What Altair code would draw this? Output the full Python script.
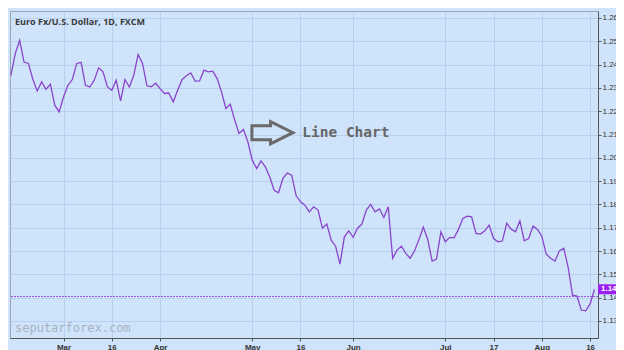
import altair as alt
import pandas as pd

# Trading days (index 0 = 2018-02-13, last = 2018-08-17), daily close
values = [
    1.2354, 1.2447, 1.2504, 1.2411, 1.2405, 1.2337, 1.2287, 1.2326, 1.2294, 1.2316,
    1.2226, 1.2197, 1.2261, 1.2311, 1.2336, 1.2405, 1.2410, 1.2311, 1.2304, 1.2333,
    1.2386, 1.2369, 1.2304, 1.2290, 1.2333, 1.2244, 1.2336, 1.2304, 1.2354, 1.2443,
    1.2405, 1.2309, 1.2305, 1.2320, 1.2297, 1.2276, 1.2278, 1.2240, 1.2290, 1.2335,
    1.2352, 1.2364, 1.2329, 1.2330, 1.2376, 1.2369, 1.2372, 1.2340, 1.2283, 1.2212,
    1.2230, 1.2162, 1.2105, 1.2122, 1.2069, 1.1990, 1.1954, 1.1987, 1.1961, 1.1918,
    1.1861, 1.1850, 1.1912, 1.1935, 1.1926, 1.1838, 1.1811, 1.1797, 1.1768, 1.1790,
    1.1776, 1.1698, 1.1716, 1.1647, 1.1621, 1.1544, 1.1661, 1.1687, 1.1659, 1.1698,
    1.1716, 1.1776, 1.1800, 1.1768, 1.1781, 1.1744, 1.1790, 1.1569, 1.1604, 1.1621,
    1.1590, 1.1569, 1.1601, 1.1649, 1.1702, 1.1650, 1.1557, 1.1566, 1.1683, 1.1640,
    1.1659, 1.1657, 1.1693, 1.1740, 1.1750, 1.1747, 1.1676, 1.1673, 1.1687, 1.1711,
    1.1654, 1.1640, 1.1643, 1.1719, 1.1694, 1.1683, 1.1729, 1.1644, 1.1654, 1.1707,
    1.1693, 1.1664, 1.1587, 1.1569, 1.1557, 1.1601, 1.1612, 1.1530, 1.1411, 1.1407,
    1.1347, 1.1344, 1.1373, 1.1436,
]
days = list(range(len(values)))

tick_days = [12, 23, 34, 55, 66, 78, 99, 110, 121, 132]
tick_labels = ["Mar", "16", "Apr", "May", "16", "Jun", "Jul", "17", "Aug", "16"]
y_ticks = [1.130, 1.140, 1.150, 1.160, 1.170, 1.180, 1.190, 1.200,
           1.210, 1.220, 1.230, 1.240, 1.250, 1.260]

ref_level = [1.1405]
last_price = [1.1436]
last_label = ["1.143"]

title_text = ["Euro Fx/U.S. Dollar, 1D, FXCM"]
watermark = ["seputarforex.com"]
annot_text = ["Line Chart"]
arrow_pos = [(59.6, 1.2108)]
annot_pos = [(66.4, 1.2108)]

BG = "#cfe3fa"
GRID = "#b7d0ee"
LINE = "#8a45cc"
TAG = "#9b1ff0"

W = 588

xscale = alt.Scale(domain=[-0.2, 133.8], nice=False, zero=False)
yscale = alt.Scale(domain=[1.1227, 1.2630], nice=False, zero=False)

label_expr = "[" + ",".join("'%s'" % s for s in tick_labels) + "][indexof([" + \
    ",".join(str(t) for t in tick_days) + "], datum.value)]"

df = pd.DataFrame({"day": days, "close": values})

xaxis = alt.Axis(values=tick_days, labelExpr=label_expr, title=None, grid=True,
                 gridColor=GRID, domainColor="#555555", tickColor="#555555",
                 tickSize=3, labelPadding=2, labelFontSize=8, labelColor="#333333",
                 labelFont="Liberation Sans", labelFontWeight="bold",
                 labelOverlap=False)
yaxis = alt.Axis(orient="right", values=y_ticks, format=".3f", title=None, grid=True,
                 gridColor=GRID, domainColor="#555555", tickColor="#555555",
                 tickSize=3, labelPadding=1, labelFontSize=8, labelColor="#333333",
                 labelFont="Liberation Sans", labelOverlap=False)

line = alt.Chart(df).mark_line(color=LINE, strokeWidth=1.3).encode(
    x=alt.X("day:Q", scale=xscale, axis=xaxis),
    y=alt.Y("close:Q", scale=yscale, axis=yaxis),
)

rule = alt.Chart(pd.DataFrame({"v": ref_level})).mark_rule(
    color="#9a55e0", strokeDash=[2, 1], strokeWidth=1
).encode(y=alt.Y("v:Q", scale=yscale, axis=yaxis))

tag = alt.Chart(pd.DataFrame({"v": last_price, "t": last_label})).mark_rect(
    color=TAG, height=10, clip=False
).encode(y=alt.Y("v:Q", scale=yscale, axis=yaxis), x=alt.value(W), x2=alt.value(W + 30))

tag_text = alt.Chart(pd.DataFrame({"v": last_price, "t": last_label})).mark_text(
    color="white", fontSize=8, fontWeight="bold", font="Liberation Sans",
    align="left", baseline="middle", dx=3
).encode(y=alt.Y("v:Q", scale=yscale, axis=yaxis), x=alt.value(W), text="t:N")

title = alt.Chart(pd.DataFrame({"t": title_text})).mark_text(
    align="left", baseline="middle", fontSize=9, fontWeight="bold",
    font="Open Sans", color="#3a3a3a"
).encode(x=alt.value(5), y=alt.value(11), text="t:N")

wm = alt.Chart(pd.DataFrame({"t": watermark})).mark_text(
    align="left", baseline="middle", fontSize=12, font="DejaVu Sans Mono",
    color="#a7b3c2"
).encode(x=alt.value(5), y=alt.value(317), text="t:N")

ax, ay = arrow_pos[0]
arrow_path = "M -1 -0.34 L -0.09 -0.34 L -0.09 -0.54 L 1 0 L -0.09 0.54 L -0.09 0.34 L -1 0.34 Z"
arrow = alt.Chart(pd.DataFrame({"x": [ax], "y": [ay]})).mark_point(
    shape=arrow_path, filled=False, size=1681, stroke="#6a6a6a", strokeWidth=3, opacity=1
).encode(x=alt.X("x:Q", scale=xscale, axis=xaxis), y=alt.Y("y:Q", scale=yscale, axis=yaxis))

tx, ty = annot_pos[0]
annot = alt.Chart(pd.DataFrame({"x": [tx], "y": [ty], "t": annot_text})).mark_text(
    align="left", baseline="middle", fontSize=14.5, fontWeight="bold",
    font="DejaVu Sans Mono", color="#666666"
).encode(x=alt.X("x:Q", scale=xscale, axis=xaxis), y=alt.Y("y:Q", scale=yscale, axis=yaxis),
         text="t:N")

chart = alt.layer(line, rule, arrow, annot, title, wm, tag, tag_text).properties(
    width=W, height=327,
    autosize=alt.AutoSizeParams(type="none"),
    padding={"left": 2, "top": 3, "right": 608 - 2 - W, "bottom": 12},
    background=BG,
).configure_view(fill=BG, stroke="#9aa4ae", strokeWidth=1
).configure_axis(labelOverlap=False)

chart.save("out.html", embed_options={"renderer": "svg", "actions": False})
